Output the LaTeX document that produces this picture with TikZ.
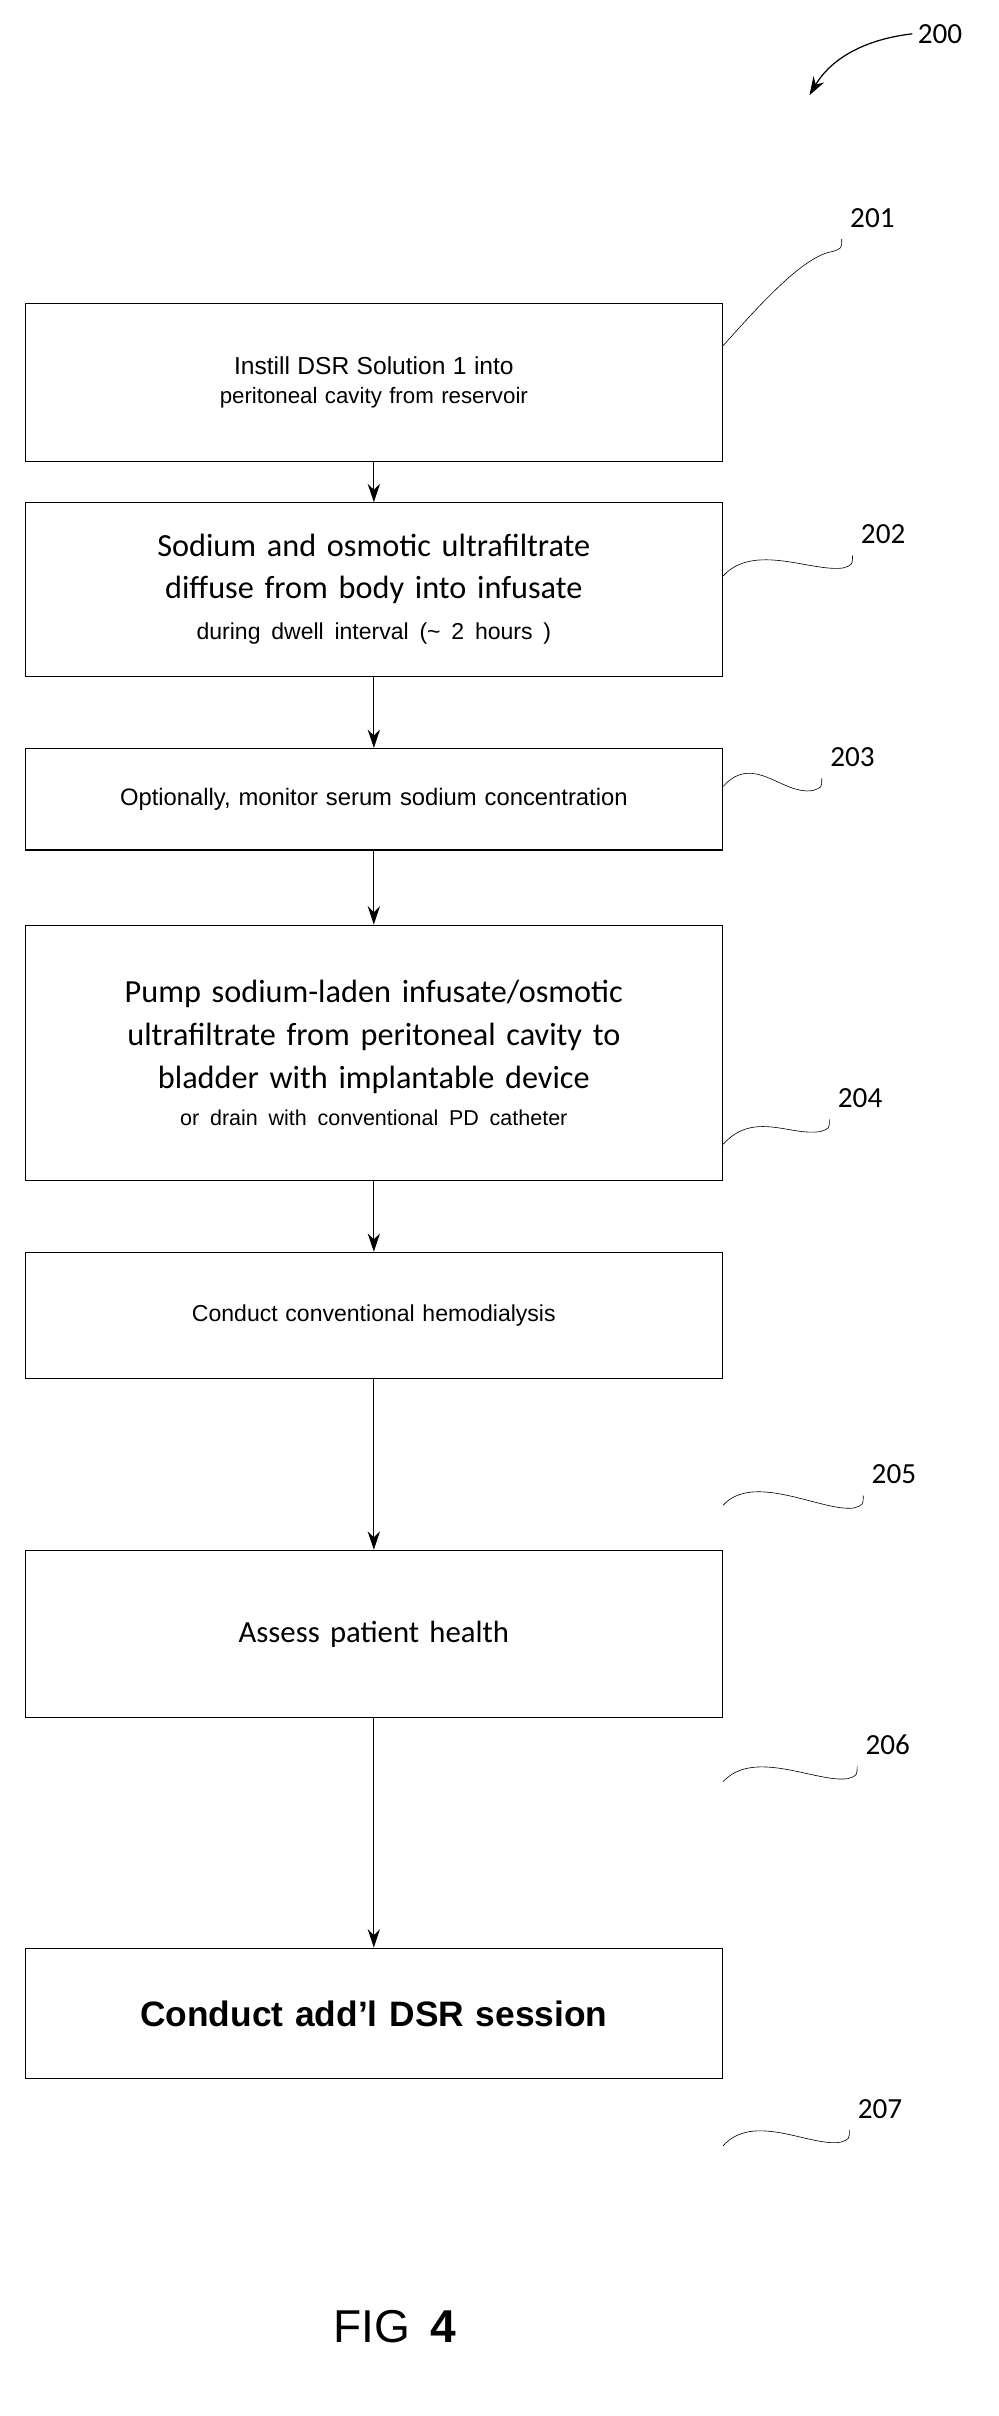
\documentclass[tikz,border=0pt]{standalone}
\usepackage{fontspec}
\setmainfont{Liberation Sans}
\newfontfamily\cali{Carlito}
\usetikzlibrary{arrows.meta, calc}
\tikzset{
  stepbox/.style={draw, thick, minimum width=454pt, inner sep=0pt, align=center, text width=440pt},
  flow/.style={draw, thick, -{Stealth[length=12pt,width=8pt]}},
  lead/.style={draw, thin},
  refno/.style={font=\cali\fontsize{19}{19}\selectfont}
}
\begin{document}
\begin{tikzpicture}[x=1pt, y=-1pt]
    \useasboundingbox (0,0) rectangle (650,1573);
    % Boxes
    \node [stepbox, minimum height=103pt, anchor=north west, font=\fontsize{14.5}{19}\selectfont] (s201) at (16,197)
        {{\fontsize{16}{19}\selectfont Instill DSR Solution 1 into}\\ peritoneal cavity from reservoir\\[26pt]};
    \node [stepbox, minimum height=113pt, anchor=north west, font=\cali\fontsize{21}{27}\selectfont] (s202) at (16,327)
        {Sodium and osmotic ultrafiltrate\\ diffuse from body into infusate\\ {\normalfont\fontsize{15}{18}\selectfont during dwell interval (\textasciitilde{} 2 hours )}};
    \node [stepbox, minimum height=66pt, anchor=north west, font=\fontsize{15.5}{18}\selectfont] (s203) at (16,487)
        {Optionally, monitor serum sodium concentration};
    \node [stepbox, minimum height=166pt, anchor=north west, font=\cali\fontsize{21}{28}\selectfont] (s204) at (16,602)
        {Pump sodium-laden infusate/osmotic\\ ultrafiltrate from peritoneal cavity to\\ bladder with implantable device\\[-4pt] {\normalfont\fontsize{14}{16}\selectfont or drain with conventional PD catheter}};
    \node [stepbox, minimum height=82pt, anchor=north west, font=\fontsize{15}{17}\selectfont] (s205) at (16,815)
        {Conduct conventional hemodialysis\\[16pt]};
    \node [stepbox, minimum height=109pt, anchor=north west, font=\cali\fontsize{20}{23}\selectfont] (s206) at (16,1009)
        {Assess patient health\\[40pt]};
    \node [stepbox, minimum height=85pt, anchor=north west, font=\bfseries\fontsize{23}{26}\selectfont] (s207) at (16,1268)
        {Conduct add'l DSR session};

    % Reference numerals
    \node [refno] (n200) at (612,22) {200};
    \node [refno] (n201) at (568,142) {201};
    \node [refno] (n202) at (575,348) {202};
    \node [refno] (n203) at (555,493) {203};
    \node [refno] (n204) at (560,715) {204};
    \node [refno] (n205) at (582,960) {205};
    \node [refno] (n206) at (578,1136) {206};
    \node [refno] (n207) at (573,1373) {207};
    \node [font=\fontsize{30}{30}\selectfont] (fig) at (257,1515) {FIG\, \textbf{4}};

    % Arrows
    \draw [flow] (s201) -- (s202);
    \draw [flow] (s202) -- (s203);
    \draw [flow] (s203) -- (s204);
    \draw [flow] (s204) -- (s205);
    \draw [flow] (s205) -- (s206);
    \draw [flow] (s206) -- (s207);
    \draw [flow] (n200.west) .. controls (560,26) and (540,40) .. (527,62);

    % Leaders
    \foreach \b/\n/\y in {s201/n201/225, s202/n202/375, s203/n203/512, s204/n204/745, s205/n205/980, s206/n206/1160, s207/n207/1397}
        \draw [lead] (\b.east |- 0,\y) .. controls +(20,-22) and +(-20,3) .. ($(\n.south west)+(-8,12)$)
            .. controls +(6,-2) .. ($(\n.south west)+(-2,4)$);
\end{tikzpicture}
\end{document}
